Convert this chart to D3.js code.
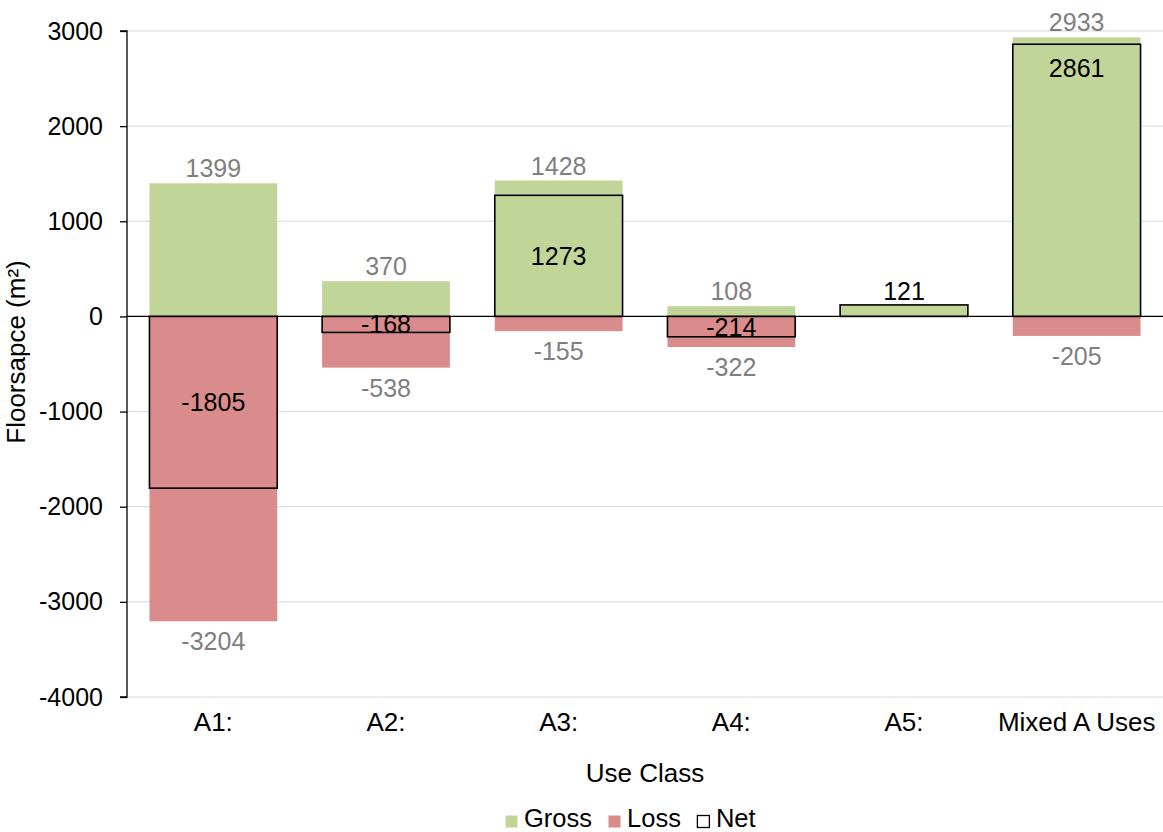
<!DOCTYPE html>
<html>
<head>
<meta charset="utf-8">
<script src="https://cdn.jsdelivr.net/npm/d3@7"></script>
<style>
  html, body { margin: 0; padding: 0; background: #fff; }
  svg { display: block; font-family: "Liberation Sans", Arial, sans-serif; }
</style>
</head>
<body>
<svg id="chart" width="1163" height="832"></svg>
<script>
// Floorspace change by use class
const categories = ["A1:", "A2:", "A3:", "A4:", "A5:", "Mixed A Uses"];
const gross = [1399, 370, 1428, 108, 121, 2933];
const loss = [-3204, -538, -155, -322, 0, -205];
const net = [-1805, -168, 1273, -214, 121, 2861];
const netLabelPlacement = ["center", "center", "center", "center", "outside", "inside"];
const yTicks = [3000, 2000, 1000, 0, -1000, -2000, -3000, -4000];
const seriesNames = ["Gross", "Loss", "Net"];

const colors = { gross: "#c2d598", loss: "#d98c8b", grid: "#d9d9d9", label: "#7f7f7f" };

const svg = d3.select("#chart");
const margin = { left: 127, right: 0, top: 31, bottom: 135 };
const W = 1163, H = 832;

const x = d3.scaleBand().domain(categories).range([margin.left, W - margin.right]).paddingInner(0.26).paddingOuter(0.13);
const y = d3.scaleLinear().domain([-4000, 3000]).range([H - margin.bottom, margin.top]);

// gridlines
svg.append("g").selectAll("line").data(yTicks).join("line")
  .attr("x1", margin.left).attr("x2", W - margin.right)
  .attr("y1", d => y(d)).attr("y2", d => y(d))
  .attr("stroke", colors.grid).attr("stroke-width", 1);

const rows = categories.map((c, i) => ({ c, g: gross[i], l: loss[i], n: net[i], pos: netLabelPlacement[i] }));

// gross bars
svg.append("g").selectAll("rect").data(rows).join("rect")
  .attr("x", d => x(d.c)).attr("width", x.bandwidth())
  .attr("y", d => y(d.g)).attr("height", d => y(0) - y(d.g))
  .attr("fill", colors.gross);

// loss bars
svg.append("g").selectAll("rect").data(rows).join("rect")
  .attr("x", d => x(d.c)).attr("width", x.bandwidth())
  .attr("y", y(0)).attr("height", d => y(d.l) - y(0))
  .attr("fill", colors.loss);

// y axis
const yAxis = d3.axisLeft(y).tickValues(yTicks).tickSize(7).tickFormat(d => String(d));
const ya = svg.append("g").attr("transform", `translate(${margin.left},0)`).call(yAxis);
ya.select(".domain").attr("stroke", "#000").attr("stroke-width", 1.3).attr("d", `M-7,${y(3000)}H0V${y(-4000)}H-7`);
ya.selectAll(".tick line").attr("stroke", "#000").attr("stroke-width", 1.3);
ya.selectAll(".tick text").attr("font-size", 25).attr("fill", "#000").attr("x", -24)
  .attr("font-family", "Liberation Sans, Arial, sans-serif");

// zero line
svg.append("line").attr("x1", margin.left).attr("x2", W).attr("y1", y(0)).attr("y2", y(0))
  .attr("stroke", "#000").attr("stroke-width", 1.3);

// net outlines
svg.append("g").selectAll("rect").data(rows).join("rect")
  .attr("x", d => x(d.c)).attr("width", x.bandwidth())
  .attr("y", d => y(Math.max(0, d.n))).attr("height", d => Math.abs(y(d.n) - y(0)))
  .attr("fill", "none").attr("stroke", "#000").attr("stroke-width", 1.6);

// gross labels
svg.append("g").selectAll("text").data(rows.filter(d => d.g !== d.n)).join("text")
  .attr("x", d => x(d.c) + x.bandwidth() / 2).attr("y", d => y(d.g) - 6)
  .attr("text-anchor", "middle").attr("font-size", 25).attr("fill", colors.label)
  .text(d => d.g);

// loss labels
svg.append("g").selectAll("text").data(rows.filter(d => d.l !== 0)).join("text")
  .attr("x", d => x(d.c) + x.bandwidth() / 2).attr("y", d => y(d.l) + 29)
  .attr("text-anchor", "middle").attr("font-size", 25).attr("fill", colors.label)
  .text(d => d.l);

// net labels
svg.append("g").selectAll("text").data(rows).join("text")
  .attr("x", d => x(d.c) + x.bandwidth() / 2)
  .attr("y", d => {
    if (d.pos === "outside") return y(d.n) - 5;
    if (d.pos === "inside") return y(d.n) + 33;
    return (y(d.n) + y(0)) / 2 + 9;
  })
  .attr("text-anchor", "middle").attr("font-size", 25).attr("fill", "#000")
  .text(d => d.n);

// category labels
svg.append("g").selectAll("text").data(categories).join("text")
  .attr("x", d => x(d) + x.bandwidth() / 2).attr("y", 731)
  .attr("text-anchor", "middle").attr("font-size", 26).attr("fill", "#000")
  .text(d => d);

// axis titles
svg.append("text").attr("x", 645).attr("y", 782).attr("text-anchor", "middle")
  .attr("font-size", 26).text("Use Class");
svg.append("text").attr("transform", "translate(25,352) rotate(-90)")
  .attr("text-anchor", "middle").attr("font-size", 26).text("Floorsapce (m²)");

// legend
const legendItems = [
  { name: seriesNames[0], fill: colors.gross, stroke: "none" },
  { name: seriesNames[1], fill: colors.loss, stroke: "none" },
  { name: seriesNames[2], fill: "#fff", stroke: "#000" }
];
const lg = svg.append("g").attr("transform", "translate(505,827)");
let lx = 0;
legendItems.forEach(it => {
  const g = lg.append("g").attr("transform", `translate(${lx},0)`);
  g.append("rect").attr("x", 0.5).attr("y", -11.5).attr("width", 12).attr("height", 12)
    .attr("fill", it.fill).attr("stroke", it.stroke).attr("stroke-width", 1.3);
  const t = g.append("text").attr("x", 19).attr("y", 0).attr("font-size", 25.5).text(it.name);
  lx += 19 + t.node().getComputedTextLength() + 16;
});
</script>
</body>
</html>
